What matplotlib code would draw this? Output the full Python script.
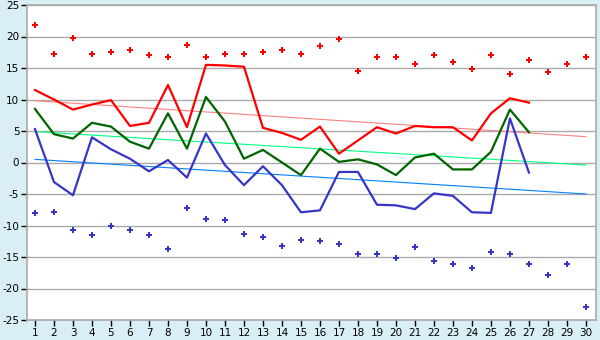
import numpy as np
import matplotlib
matplotlib.use('Agg')
import matplotlib.pyplot as plt

plt.rcParams['axes.unicode_minus'] = False

# Dias do mês
dias = list(range(1, 31))
dias_medidos = list(range(1, 28))

# Máxima, média e mínima diárias (dias 1-27)
temp_max = [11.5, 10.0, 8.4, 9.2, 9.9, 5.8, 6.3, 12.3, 5.6, 15.5,
            15.4, 15.2, 5.5, 4.7, 3.6, 5.7, 1.4, 3.5, 5.6, 4.6,
            5.8, 5.6, 5.6, 3.5, 7.8, 10.2, 9.5]
temp_media = [8.5, 4.5, 3.8, 6.3, 5.7, 3.3, 2.2, 7.8, 2.2, 10.4,
              6.5, 0.6, 2.0, 0.0, -2.0, 2.2, 0.1, 0.5, -0.3, -2.0,
              0.8, 1.4, -1.1, -1.1, 1.7, 8.4, 4.8]
temp_min = [5.3, -3.1, -5.2, 4.0, 2.1, 0.6, -1.4, 0.4, -2.4, 4.6,
            -0.4, -3.6, -0.6, -3.6, -7.9, -7.6, -1.5, -1.5, -6.7, -6.8,
            -7.4, -4.9, -5.3, -7.9, -8.0, 7.0, -1.6]

# Recordes de máxima e mínima (dias 1-30)
recorde_max = [21.8, 17.2, 19.7, 17.2, 17.5, 17.8, 17.0, 16.7, 18.6, 16.8,
               17.2, 17.2, 17.5, 17.8, 17.2, 18.5, 19.6, 14.5, 16.7, 16.7,
               15.6, 17.1, 16.0, 14.9, 17.1, 14.0, 16.3, 14.4, 15.7, 16.7]
recorde_min = [-8.0, -7.8, -10.7, -11.5, -10.0, -10.7, -11.5, -13.7, -7.3, -8.9,
               -9.2, -11.3, -11.8, -13.2, -12.3, -12.4, -12.9, -14.5, -14.5, -15.1,
               -13.4, -15.6, -16.1, -16.7, -14.2, -14.5, -16.1, -17.8, -16.1, -22.9]

# Tendências normais (dia 1 e dia 30)
tend_dias = [1, 30]
tend_max = [9.8, 4.1]
tend_media = [4.9, -0.4]
tend_min = [0.5, -5.0]

fundo = '#d9eef5'
fig = plt.figure(figsize=(6, 3.4), dpi=100, facecolor=fundo)
ax = fig.add_axes([27 / 600, 1 - 320 / 340, 569 / 600, 315 / 340])
ax.set_facecolor('white')

ax.plot(tend_dias, tend_max, color='#ff8080', lw=0.8, zorder=2)
ax.plot(tend_dias, tend_media, color='#00ff80', lw=0.8, zorder=2)
ax.plot(tend_dias, tend_min, color='#0080ff', lw=0.8, zorder=2)

ax.plot(dias_medidos, temp_max, color='#ff0000', lw=1.6, zorder=3)
ax.plot(dias_medidos, temp_media, color='#006400', lw=1.6, zorder=3)
ax.plot(dias_medidos, temp_min, color='#3535c8', lw=1.6, zorder=3)

ax.plot(dias, recorde_max, ls='none', marker='P', ms=5, mew=0,
        color='#ff0000', zorder=4)
ax.plot(dias, recorde_min, ls='none', marker='P', ms=5, mew=0,
        color='#3535c8', zorder=4)

ax.set_xlim(0.58, 30.53)
ax.set_ylim(-25, 25)
ax.set_xticks(dias)
ax.set_yticks(range(-25, 26, 5))
ax.grid(axis='y', color='#aaaaaa', lw=1)
ax.set_axisbelow(True)
for s in ax.spines.values():
    s.set_color('#aaaaaa')
    s.set_linewidth(1.2)
ax.tick_params(axis='both', length=4, width=1, color='black',
               labelsize=7.5, pad=1.5)

plt.savefig('out.png', dpi=100, facecolor=fundo)
